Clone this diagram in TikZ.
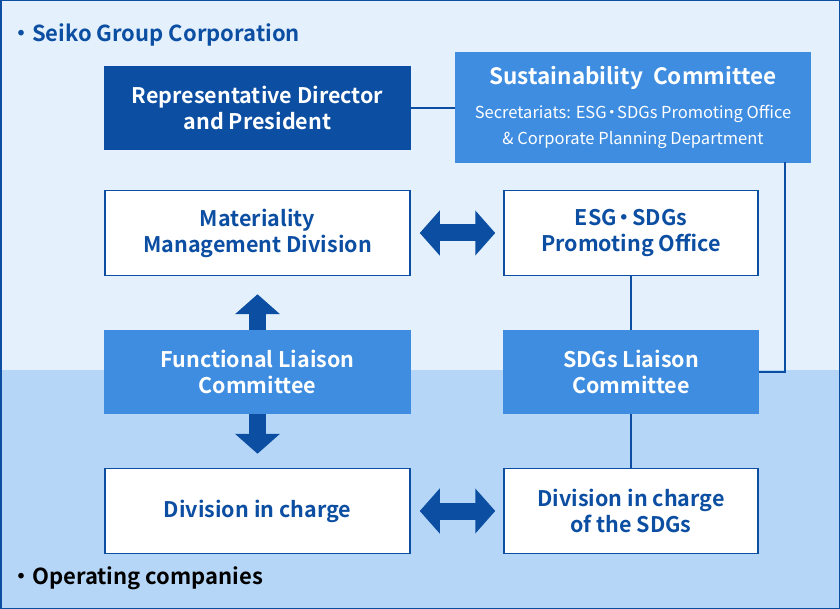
\documentclass[tikz,border=0pt]{standalone}
\usepackage{fontspec}
\setmainfont{Noto Sans CJK JP}[BoldFont={* Bold}]
\usetikzlibrary{arrows.meta}
\definecolor{dk}{HTML}{0B4EA2}
\definecolor{md}{HTML}{3F8DE0}
\definecolor{bgt}{HTML}{E4F1FC}
\definecolor{bgb}{HTML}{B6D6F7}
\tikzset{
 box/.style={draw=dk,line width=1.5pt,fill=white,text=dk,font=\bfseries\fontsize{21.5}{26}\selectfont,align=center,minimum width=305pt,minimum height=85pt,inner sep=0},
 sbox/.style={box,minimum width=254pt},
 dkbox/.style={box,fill=dk,draw=dk,text=white,minimum height=82pt},
 mdbox/.style={box,fill=md,draw=md,text=white,minimum height=82pt},
 link/.style={draw=dk,line width=2.5pt},
 blk/.style={draw=dk,line width=17pt,{Triangle[length=20pt,width=44pt]}-{Triangle[length=20pt,width=44pt]}},
 blkup/.style={draw=dk,line width=17pt,-{Triangle[length=20pt,width=44pt]}},
}
\begin{document}
\begin{tikzpicture}[x=1pt,y=-1pt]
\useasboundingbox (0,0) rectangle (840,609);
\fill[bgt] (0,0) rectangle (840,370);
\fill[bgb] (0,370) rectangle (840,609);
\draw[dk,line width=1.5pt] (0.75,0.75) rectangle (839.25,608.25);
\node[anchor=west,text=dk,font=\bfseries\fontsize{22}{26}\selectfont,inner sep=0] (t1) at (10,35) {・Seiko Group Corporation};
\node[anchor=west,text=black,font=\bfseries\fontsize{22}{26}\selectfont,inner sep=0] (t2) at (10,578) {・Operating companies};
\node[dkbox] (rep) at (257.5,108) {Representative Director\\and President};
\node[mdbox,minimum width=354pt,minimum height=109pt] (sus) at (633,107.5) {{\fontsize{22.5}{26}\selectfont Sustainability\ \ Committee}\\[8pt]{\mdseries\fontsize{16.5}{22}\selectfont Secretariats: ESG{\kern-3pt}・{\kern-3pt}SDGs Promoting Office}\\{\mdseries\fontsize{16.5}{22}\selectfont \& Corporate Planning Department}};
\node[box] (mat) at (257.5,233) {Materiality\\Management Division};
\node[sbox] (esg) at (631,233) {ESG{\kern-3pt}・{\kern-3pt}SDGs\\Promoting Office};
\node[mdbox] (fun) at (257.5,372) {Functional Liaison\\Committee};
\node[mdbox,minimum width=254pt] (sl) at (631,372) {SDGs Liaison\\Committee};
\node[box] (div) at (257.5,511) {Division in charge};
\node[sbox] (dsd) at (631,511) {Division in charge\\of the SDGs};
\coordinate (c1) at (785,162);
\coordinate (c2) at (785,372);
\draw[link] (rep.east) -- (sus.west |- rep.east);
\draw[link] (c1) -- (c2) -- (sl.east);
\draw[link] (esg.south) -- (sl.north);
\draw[link] (sl.south) -- (dsd.north);
\draw[blk] ([xshift=9pt]mat.east) -- ([xshift=-8pt]esg.west);
\draw[blk] ([xshift=9pt]div.east) -- ([xshift=-8pt]dsd.west);
\draw[blkup] (fun.north) -- ([yshift=-18pt]mat.south);
\draw[blkup] (fun.south) -- ([yshift=14pt]div.north);
\end{tikzpicture}
\end{document}
